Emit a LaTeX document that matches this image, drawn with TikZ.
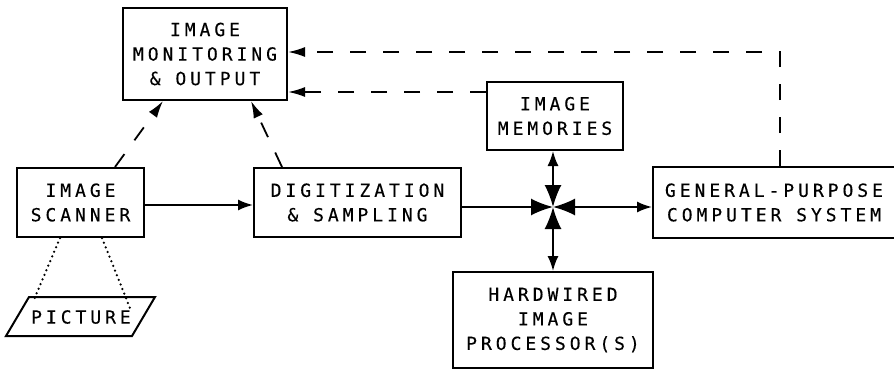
\documentclass[tikz,border=0pt]{standalone}
\usepackage{fontspec}
\newfontfamily\plotfont[LetterSpace=22,FakeBold=0.3]{DejaVu Sans Mono}
\usetikzlibrary{arrows.meta,calc}
\begin{document}
\begin{tikzpicture}[x=1pt,y=-1pt,
  every node/.style={font=\plotfont\fontsize{18}{24.5}\selectfont, align=center, inner sep=0pt},
  blk/.style={draw, line width=2pt, minimum width=#1},
  ln/.style={line width=1.8pt},
  sarr/.style={ln, -{Latex[length=15pt,width=11pt]}},
  dsh/.style={ln, dash pattern=on 16pt off 17pt, -{Latex[length=17pt,width=10pt]}},
  dots/.style={line width=2.5pt, line cap=round, dash pattern=on 0pt off 5pt},
  junc/.style={ln, {Latex[length=22pt,width=17pt]}-{Latex[length=15pt,width=11pt]}}
]
\useasboundingbox (0,0) rectangle (894,370);
% boxes
\node[blk=164pt, minimum height=92pt] (mon) at (205,54) {IMAGE\\MONITORING\\\& OUTPUT};
\node[blk=127pt, minimum height=69pt] (scan) at (80.5,202.5) {IMAGE\\SCANNER};
\node[blk=207pt, minimum height=69pt] (dig) at (357.5,202.5) {DIGITIZATION\\\& SAMPLING};
\node[blk=136pt, minimum height=68pt] (mem) at (555,116) {IMAGE\\MEMORIES};
\node[blk=242pt, minimum height=71pt] (gen) at (774,202.5) {GENERAL-PURPOSE\\COMPUTER SYSTEM};
\node[blk=200pt, minimum height=96pt] (hw) at (553,320) {HARDWIRED\\IMAGE\\PROCESSOR(S)};
\node (pic) at (81,317) {PICTURE};
\draw[line width=2pt] (29,297) -- (155,297) -- (132,336) -- (6,336) -- cycle;
% junction
\coordinate (J) at (553,207);
\draw[ln, -{Latex[length=22pt,width=17pt]}] (dig.east |- J) -- (J);
\draw[junc] (J) -- (J |- mem.south);
\draw[junc] (J) -- (J |- hw.north);
\draw[junc] (J) -- (J -| gen.west);
% scanner to digitization
\draw[sarr] ([yshift=-2.5pt]scan.east) -- ([yshift=-2.5pt]dig.west);
% dashed feedback
\coordinate (mw) at ([yshift=24pt]mem.west);
\draw[dsh] ([xshift=34.5pt]scan.north) -- ([xshift=-42pt]mon.south);
\draw[dsh] ([xshift=-75.5pt]dig.north) -- ([xshift=46pt]mon.south);
\draw[dsh] (mw) -- (mon.east |- mw);
\draw[dsh] ([xshift=6pt]gen.north) |- ([yshift=2pt]mon.east);
% dotted
\coordinate (d1) at (33,302);
\coordinate (d2) at (130,308);
\draw[dots] ([xshift=-20.5pt]scan.south) -- (d1);
\draw[dots] ([xshift=21.5pt]scan.south) -- (d2);
\end{tikzpicture}
\end{document}
